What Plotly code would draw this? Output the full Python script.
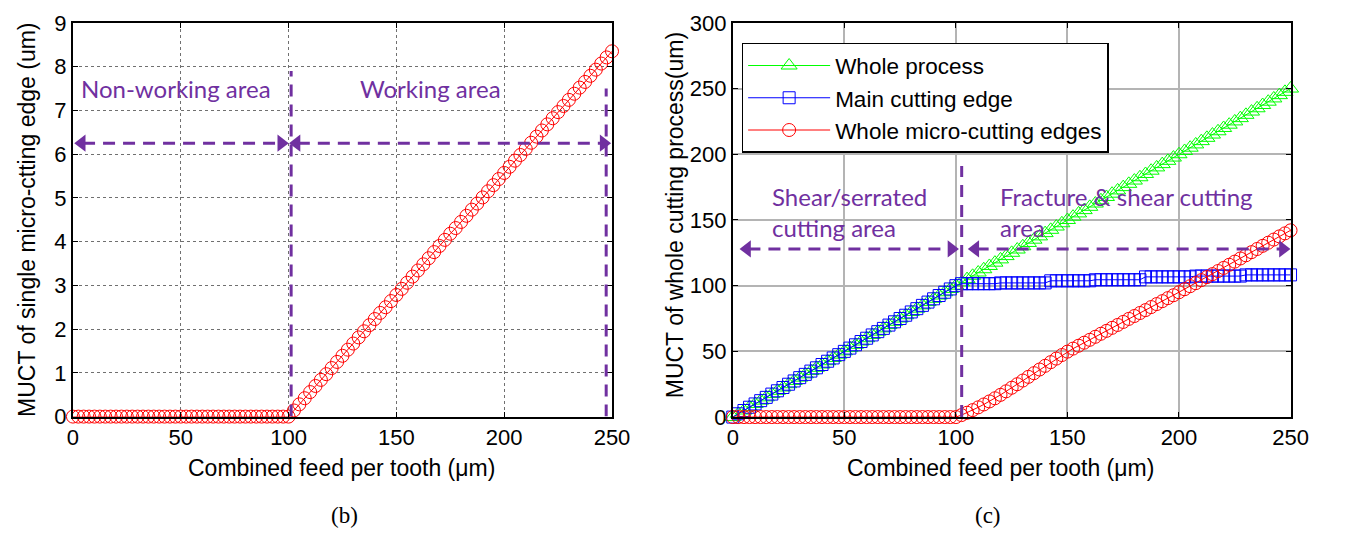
import plotly.graph_objects as go

# ---------------- data ----------------
FEED = [0, 2.5, 5, 7.5, 10, 12.5, 15, 17.5, 20, 22.5, 25, 27.5, 30, 32.5, 35, 37.5,
        40, 42.5, 45, 47.5, 50, 52.5, 55, 57.5, 60, 62.5, 65, 67.5, 70, 72.5, 75, 77.5,
        80, 82.5, 85, 87.5, 90, 92.5, 95, 97.5, 100, 102.5, 105, 107.5, 110, 112.5, 115,
        117.5, 120, 122.5, 125, 127.5, 130, 132.5, 135, 137.5, 140, 142.5, 145, 147.5,
        150, 152.5, 155, 157.5, 160, 162.5, 165, 167.5, 170, 172.5, 175, 177.5, 180,
        182.5, 185, 187.5, 190, 192.5, 195, 197.5, 200, 202.5, 205, 207.5, 210, 212.5,
        215, 217.5, 220, 222.5, 225, 227.5, 230, 232.5, 235, 237.5, 240, 242.5, 245,
        247.5, 250]

# (b) MUCT of single micro-cutting edge (um)
SINGLE_EDGE = [0] * 41 + [
    0.14, 0.28, 0.42, 0.56, 0.70, 0.84, 0.97, 1.11, 1.25, 1.39, 1.53, 1.67, 1.81, 1.95,
    2.09, 2.23, 2.37, 2.50, 2.64, 2.78, 2.92, 3.06, 3.20, 3.34, 3.48, 3.62, 3.76, 3.90,
    4.04, 4.18, 4.31, 4.45, 4.59, 4.73, 4.87, 5.01, 5.15, 5.29, 5.43, 5.57, 5.71, 5.85,
    5.98, 6.12, 6.26, 6.40, 6.54, 6.68, 6.82, 6.96, 7.10, 7.24, 7.38, 7.52, 7.65, 7.79,
    7.93, 8.07, 8.21, 8.35]

# (c) MUCT of whole cutting process (um)
WHOLE_PROCESS = [0, 2.5, 5, 7.5, 10, 12.5, 15, 17.5, 20, 22.5, 25, 27.5, 30, 32.5, 35, 37.5,
                 40, 42.5, 45, 47.5, 50, 52.5, 55, 57.5, 60, 62.5, 65, 67.5, 70, 72.5, 75,
                 77.5, 80, 82.5, 85, 87.5, 90, 92.5, 95, 97.5, 100, 102.5, 105, 107.5, 110,
                 112.5, 115, 117.5, 120, 122.5, 125, 127.5, 130, 132.5, 135, 137.5, 140,
                 142.5, 145, 147.5, 150, 152.5, 155, 157.5, 160, 162.5, 165, 167.5, 170,
                 172.5, 175, 177.5, 180, 182.5, 185, 187.5, 190, 192.5, 195, 197.5, 200,
                 202.5, 205, 207.5, 210, 212.5, 215, 217.5, 220, 222.5, 225, 227.5, 230,
                 232.5, 235, 237.5, 240, 242.5, 245, 247.5, 250]

MAIN_EDGE = [0, 2.5, 5, 7.5, 10, 12.5, 15, 17.5, 20, 22.5, 25, 27.5, 30, 32.5, 35, 37.5,
             40, 42.5, 45, 47.5, 50, 52.5, 55, 57.5, 60, 62.5, 65, 67.5, 70, 72.5, 75, 77.5,
             80, 82.5, 85, 87.5, 90, 92.5, 95, 97.5, 100] + \
            [101.5] * 7 + [102.1] * 9 + [103.7] * 8 + [104.5] * 9 + \
            [106.7] * 9 + [107.3] * 9 + [108.2] * 9

MICRO_EDGES = [0] * 41 + [
    1.5, 3.3, 5.3, 7.4, 9.6, 11.9, 14.3, 16.9, 19.6, 22.3, 25.0, 27.8, 30.6, 33.4, 36.2,
    39.0, 41.8, 44.5, 47.2, 49.8,
    52.1, 54.3, 56.6, 58.8, 61.1, 63.4, 65.6, 67.9, 70.1, 72.4, 74.7, 76.9, 79.2, 81.4,
    83.7, 86.0, 88.2, 90.5, 92.7, 95.0,
    97.3, 99.6, 101.9, 104.2, 106.5, 108.8, 111.1, 113.5, 115.9, 118.3, 120.7, 123.1,
    125.5, 127.9, 130.3, 132.7, 135.1, 137.5, 139.8, 142.1]

X_TICKS = [0, 50, 100, 150, 200, 250]
Y_TICKS_B = [0, 1, 2, 3, 4, 5, 6, 7, 8, 9]
Y_TICKS_C = [0, 50, 100, 150, 200, 250, 300]

# annotation geometry (data units)
B_VLINES = [(101.2, 7.9), (247.3, 7.5)]
B_ARROW_Y = 6.25
B_ARROWS = [(1.7, 99.0), (101.3, 248.5)]
C_VLINES = [(102.6, 191)]
C_ARROW_Y = 128
C_ARROWS = [(4.0, 100.4), (106.3, 249.0)]

PURPLE = "#7030A0"
SANS = "Liberation Sans, Arial, sans-serif"
TICK_FONT = dict(family=SANS, size=22, color="black")
LABEL_FONT = dict(family=SANS, size=23, color="black")
AREA_FONT = dict(family="Lato, Open Sans, sans-serif", size=24, color=PURPLE)
SERIF_FONT = dict(family="Liberation Serif, Times New Roman, serif", size=23, color="black")

# page is 1346x552; the html body keeps its default 8px margin
BODY = 8
FIG_W, FIG_H = 1346 - 2 * BODY, 552 - 2 * BODY


def px_x(px):
    return (px - BODY) / FIG_W


def px_y(py):
    return 1 - (py - BODY) / FIG_H


fig = go.Figure()

# ---------------- (b) ----------------
fig.add_trace(go.Scatter(
    x=FEED, y=SINGLE_EDGE, mode="lines+markers", xaxis="x", yaxis="y",
    line=dict(color="#FF0000", width=1),
    marker=dict(symbol="circle-open", size=13, color="#FF0000", line=dict(width=1)),
    showlegend=False, cliponaxis=False))

# ---------------- (c) ----------------
fig.add_trace(go.Scatter(
    x=FEED, y=WHOLE_PROCESS, mode="lines+markers", xaxis="x2", yaxis="y2",
    name="Whole process",
    line=dict(color="#00FF00", width=1),
    marker=dict(symbol="triangle-up-open", size=14, color="#00FF00", line=dict(width=1)),
    cliponaxis=False))
fig.add_trace(go.Scatter(
    x=FEED, y=MAIN_EDGE, mode="lines+markers", xaxis="x2", yaxis="y2",
    name="Main cutting edge",
    line=dict(color="#0000FF", width=1),
    marker=dict(symbol="square-open", size=12, color="#0000FF", line=dict(width=1)),
    cliponaxis=False))
fig.add_trace(go.Scatter(
    x=FEED, y=MICRO_EDGES, mode="lines+markers", xaxis="x2", yaxis="y2",
    name="Whole micro-cutting edges",
    line=dict(color="#FF0000", width=1),
    marker=dict(symbol="circle-open", size=13, color="#FF0000", line=dict(width=1)),
    cliponaxis=False))

shapes = []
DASH = "12px,8px"


def add_arrows(arrows, yv, xr, yr, head_off):
    for x0, x1 in arrows:
        shapes.append(dict(type="line", xref=xr, yref=yr, x0=x0 + head_off, x1=x1 - head_off,
                           y0=yv, y1=yv, line=dict(color=PURPLE, width=3, dash=DASH)))
        fig.add_trace(go.Scatter(
            x=[x0 + head_off * 0.8, x1 - head_off * 0.8], y=[yv, yv], mode="markers",
            xaxis=xr, yaxis=yr, showlegend=False, hoverinfo="skip", cliponaxis=False,
            marker=dict(symbol=["triangle-left", "triangle-right"], size=15, color=PURPLE,
                        line=dict(width=0))))


for xv, ytop in B_VLINES:
    shapes.append(dict(type="line", xref="x", yref="y", x0=xv, x1=xv, y0=0, y1=ytop,
                       line=dict(color=PURPLE, width=3, dash=DASH)))
for xv, ytop in C_VLINES:
    shapes.append(dict(type="line", xref="x2", yref="y2", x0=xv, x1=xv, y0=0, y1=ytop,
                       line=dict(color=PURPLE, width=3, dash=DASH)))
add_arrows(B_ARROWS, B_ARROW_Y, "x", "y", 3.0)
add_arrows(C_ARROWS, C_ARROW_Y, "x2", "y2", 3.0)


def paper_text(text, px, py, font, angle=0):
    return dict(text=text, x=px_x(px), y=px_y(py), xref="paper", yref="paper",
                xanchor="center", yanchor="middle", showarrow=False, font=font,
                textangle=angle)


annotations = [
    dict(text="Non-working area", x=48, y=7.5, xref="x", yref="y", showarrow=False,
         xanchor="center", yanchor="middle", font=AREA_FONT),
    dict(text="Working area", x=166, y=7.5, xref="x", yref="y", showarrow=False,
         xanchor="center", yanchor="middle", font=AREA_FONT),
    dict(text="Shear/serrated<br>cutting area", x=16.5, y=156, xref="x2", yref="y2",
         showarrow=False, font=AREA_FONT, xanchor="left", yanchor="middle", align="left"),
    dict(text="Fracture &amp; shear cutting<br>area", x=119, y=156, xref="x2", yref="y2",
         showarrow=False, font=AREA_FONT, xanchor="left", yanchor="middle", align="left"),
    # axis titles
    paper_text("Combined feed per tooth (\u03bcm)", 342, 478, LABEL_FONT),
    paper_text("Combined feed per tooth (\u03bcm)", 1013, 478, LABEL_FONT),
    paper_text("MUCT of single micro-ctting edge (um)", 22, 217, LABEL_FONT, -90),
    paper_text("MUCT of whole cutting process(um)", 682, 213, LABEL_FONT, -90),
    paper_text("(b)", 345, 528, SERIF_FONT),
    paper_text("(c)", 1000, 528, SERIF_FONT),
]

common_axis = dict(showline=True, linecolor="black", linewidth=2, mirror="ticks",
                   ticks="inside", ticklen=5, tickcolor="black", tickwidth=1,
                   tickfont=TICK_FONT, zeroline=False, ticklabeloverflow="allow")

fig.update_layout(
    width=FIG_W, height=FIG_H,
    margin=dict(l=0, r=0, t=0, b=0),
    paper_bgcolor="white", plot_bgcolor="white",
    xaxis=dict(domain=[px_x(68), px_x(617)], range=[0, 250], tickvals=X_TICKS,
               showgrid=True, gridcolor="#707070", griddash="dot", gridwidth=1,
               anchor="y", **common_axis),
    yaxis=dict(domain=[px_y(424), px_y(11)], range=[0, 9], tickvals=Y_TICKS_B,
               showgrid=True, gridcolor="#707070", griddash="dot", gridwidth=1,
               anchor="x", **common_axis),
    xaxis2=dict(domain=[px_x(740), px_x(1308)], range=[0, 250], tickvals=X_TICKS,
                showgrid=True, gridcolor="#b4b4b4", gridwidth=1.5, anchor="y2",
                **common_axis),
    yaxis2=dict(domain=[px_y(424.5), px_y(11)], range=[0, 300], tickvals=Y_TICKS_C,
                showgrid=True, gridcolor="#b4b4b4", gridwidth=1.5, anchor="x2",
                **common_axis),
    legend=dict(x=px_x(749), y=px_y(32), xanchor="left", yanchor="top",
                bgcolor="white", bordercolor="black", borderwidth=1.5,
                font=dict(family=SANS, size=22.5, color="black"),
                itemwidth=82, tracegroupgap=0),
    shapes=shapes,
    annotations=annotations,
)

fig.write_html("out.html", config={"displayModeBar": False})
